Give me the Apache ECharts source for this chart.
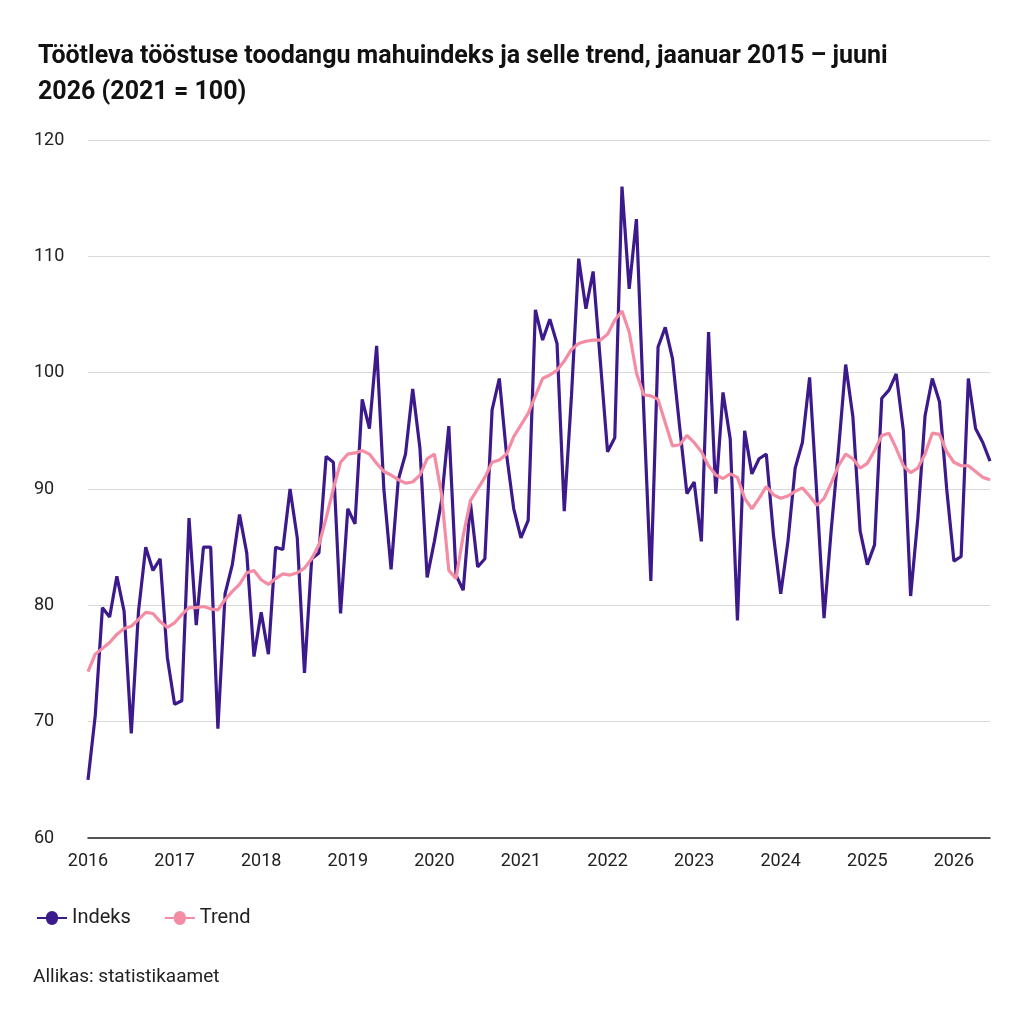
<!DOCTYPE html>
<html>
<head>
<meta charset="utf-8">
<script src="https://cdn.jsdelivr.net/npm/echarts@6/dist/echarts.min.js"></script>
<style>
  html, body { margin: 0; padding: 0; background: #fff; }
  #chart { width: 1024px; height: 1024px; }
</style>
</head>
<body>
<div id="chart"></div>
<script>
const indeks = [
    65, 70.5, 79.8, 79, 82.5, 79.5, 69, 79.5, 85, 83, 84, 75.5,
    71.5, 71.8, 87.5, 78.3, 85, 85, 69.4, 81, 83.5, 87.8, 84.5, 75.6,
    79.4, 75.8, 85, 84.8, 90, 85.8, 74.2, 84, 84.5, 92.8, 92.3, 79.3,
    88.3, 87, 97.7, 95.2, 102.3, 90, 83.1, 90.8, 93, 98.6, 93.5, 82.4,
    85.5, 89, 95.4, 82.6, 81.3, 88.8, 83.3, 84, 96.8, 99.5, 93, 88.3,
    85.8, 87.3, 105.4, 102.8, 104.6, 102.5, 88.1, 98, 109.8, 105.5, 108.7, 101,
    93.2, 94.4, 116, 107.2, 113.2, 97, 82.1, 102.2, 103.9, 101.2, 95.3, 89.6,
    90.6, 85.5, 103.5, 89.6, 98.3, 94.3, 78.7, 95, 91.3, 92.6, 93, 86,
    81, 85.5, 91.8, 94, 99.6, 89.5, 78.9, 86.5, 93.3, 100.7, 96.2, 86.4,
    83.5, 85.2, 97.8, 98.5, 99.9, 95, 80.8, 87.5, 96.3, 99.5, 97.5, 90,
    83.8, 84.2, 99.5, 95.2, 94, 92.4
];
const trend = [
    74.3, 75.8, 76.3, 76.8, 77.5, 78, 78.2, 78.8, 79.4, 79.3, 78.6, 78.1,
    78.5, 79.2, 79.8, 79.8, 79.9, 79.7, 79.6, 80.5, 81.2, 81.8, 82.8, 83,
    82.2, 81.8, 82.3, 82.7, 82.6, 82.8, 83.2, 84, 85.2, 87.5, 90, 92.3,
    93, 93.1, 93.3, 93, 92.2, 91.5, 91.2, 90.8, 90.5, 90.6, 91.2, 92.6,
    93, 89.5, 83, 82.3, 86, 89, 90, 91, 92.3, 92.5, 93, 94.5,
    95.5, 96.5, 98, 99.5, 99.8, 100.2, 101, 102, 102.5, 102.7, 102.8, 102.8,
    103.3, 104.5, 105.3, 103.5, 100, 98.1, 98, 97.7, 95.7, 93.7, 93.8, 94.6,
    94, 93.2, 92, 91.2, 90.9, 91.3, 91, 89.2, 88.3, 89.2, 90.2, 89.5,
    89.2, 89.4, 89.8, 90.1, 89.4, 88.6, 89.2, 90.5, 92, 93, 92.6, 91.8,
    92.2, 93.3, 94.6, 94.8, 93.5, 92, 91.4, 91.8, 93, 94.8, 94.7, 93.2,
    92.3, 92, 92, 91.5, 91, 90.8
];
const startYear = 2016;
const months = indeks.map((v, i) => (startYear + Math.floor(i / 12)) + '-' + String(i % 12 + 1).padStart(2, '0'));

const legendIcon = 'path://M0,9L9,9A6,6 0 1 1 21,9L30,9L30,11L21,11A6,6 0 1 1 9,11L0,11Z';

let chart = echarts.init(document.getElementById('chart'));
let option = {
    backgroundColor: '#fff',
    textStyle: { fontFamily: 'Roboto' },
    title: {
        text: 'Töötleva tööstuse toodangu mahuindeks ja selle trend, jaanuar 2015 – juuni\n2026 (2021 = 100)',
        left: 33, top: 34,
        textStyle: { fontSize: 25, fontWeight: 'bold', color: '#111', lineHeight: 36, fontFamily: 'Roboto' }
    },
    legend: {
        left: 32, top: 903,
        itemWidth: 30, itemHeight: 18, itemGap: 34,
        textStyle: { fontSize: 20, color: '#222' },
        data: [
            { name: 'Indeks', icon: legendIcon },
            { name: 'Trend', icon: legendIcon }
        ]
    },
    graphic: [{
        type: 'text', left: 33, top: 968,
        style: { text: 'Allikas: statistikaamet', fontSize: 19, fill: '#222', fontFamily: 'Roboto' }
    }],
    grid: { left: 88, right: 34, top: 140, bottom: 186 },
    xAxis: {
        type: 'category',
        data: months,
        boundaryGap: false,
        axisLine: { lineStyle: { color: '#222', width: 1.5 } },
        axisTick: { show: false },
        axisLabel: {
            interval: (i) => i % 12 === 0,
            formatter: (v) => v.slice(0, 4),
            fontSize: 18, color: '#222', margin: 14
        }
    },
    yAxis: {
        type: 'value',
        min: 60, max: 120, interval: 10,
        axisLine: { show: false },
        axisTick: { show: false },
        splitLine: { lineStyle: { color: '#d9d9d9', width: 1 } },
        axisLabel: { fontSize: 18, color: '#222', margin: 54, align: 'left' }
    },
    series: [
        {
            name: 'Indeks', type: 'line', data: indeks,
            showSymbol: false, symbol: 'circle',
            itemStyle: { color: '#3d1a8c' },
            lineStyle: { color: '#3d1a8c', width: 3.2 }
        },
        {
            name: 'Trend', type: 'line', data: trend,
            showSymbol: false, symbol: 'circle',
            itemStyle: { color: '#f48ca4' },
            lineStyle: { color: '#f48ca4', width: 3.2 }
        }
    ]
};
chart.setOption(option);
</script>
</body>
</html>
